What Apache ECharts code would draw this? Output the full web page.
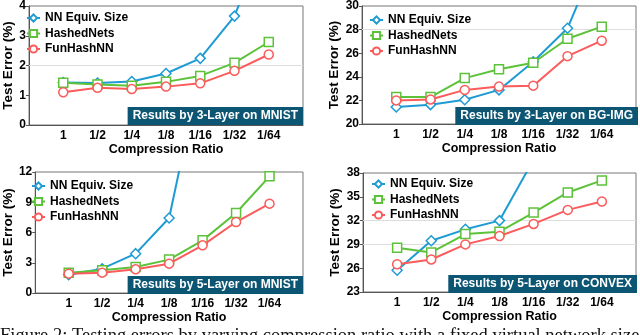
<!DOCTYPE html>
<html><head><meta charset="utf-8">
<script src="https://cdn.jsdelivr.net/npm/echarts@6/dist/echarts.min.js"></script>
<style>html,body{margin:0;padding:0;background:#fff}#c{width:640px;height:335px}</style>
</head><body><div id="c"></div>
<script>
const ratios = ['1','1/2','1/4','1/8','1/16','1/32','1/64'];
const seriesNames = ['NN Equiv. Size','HashedNets','FunHashNN'];
// Panel A: 3-Layer MNIST
const a_nn   = [1.43,1.41,1.46,1.73,2.24,3.66,6.6];
const a_hash = [1.42,1.36,1.32,1.45,1.65,2.09,2.79];
const a_fun  = [1.10,1.25,1.21,1.29,1.40,1.82,2.37];
// Panel B: 3-Layer BG-IMG
const b_nn   = [21.44,21.64,22.06,22.89,25.28,28.11,35.0];
const b_hash = [22.28,22.28,23.89,24.64,25.19,27.22,28.25];
const b_fun  = [22.00,22.08,22.89,23.17,23.25,25.75,27.06];
// Panel C: 5-Layer MNIST
const c_nn   = [1.82,2.41,3.90,7.44,23.0,40.0,60.0];
const c_hash = [2.02,2.25,2.58,3.31,5.22,7.93,11.57];
const c_fun  = [1.92,2.02,2.35,2.91,4.73,7.04,8.86];
// Panel D: 5-Layer CONVEX
const d_nn   = [25.75,29.46,30.90,32.00,39.7,46.0,52.0];
const d_hash = [28.58,27.99,30.31,30.60,33.01,35.55,37.07];
const d_fun  = [26.50,27.10,29.00,30.06,31.58,33.35,34.41];
// Axis ranges / ticks
const yMin = [0,20,0,23], yMax = [4,30,12,38], yStep = [1,2,3,3];
const gridLinesAt = [[2],[28],[],[29,32]];
const panelTitles = ['Results by 3-Layer on MNIST','Results by 3-Layer on BG-IMG','Results by 5-Layer on MNIST','Results by 5-Layer on CONVEX'];
const caption = 'Figure 2: Testing errors by varying compression ratio with a fixed virtual network size';
const panelData = [[a_nn,a_hash,a_fun],[b_nn,b_hash,b_fun],[c_nn,c_hash,c_fun],[d_nn,d_hash,d_fun]];

const colors = ['#1f9bd4','#5cc23a','#fb5b5b'];
const symbols = ['diamond','rect','circle'];
const symSizes = [10,9,9];
const FF = 'Liberation Sans, Arial, sans-serif';

const grids = [
  {left:23, top:4, width:280, height:121},
  {left:362, top:4, width:274, height:120},
  {left:25, top:172, width:278, height:121},
  {left:363, top:173, width:273, height:119}
];
const legendPos = [{left:26,top:12},{left:369,top:14},{left:31,top:180},{left:371,top:178}];
const titlePos = [{right:337,top:107},{right:2,top:107},{right:337,top:276},{right:3,top:275}];

const option = {
  animation:false,
  backgroundColor:'#fff',
  grid: grids.map(g=>Object.assign({show:true,borderColor:'#777',borderWidth:1,containLabel:false},g)),
  xAxis: grids.map((g,i)=>({
    type:'value', gridIndex:i, min:0, max:8, interval:1,
    name:'Compression Ratio', nameLocation:'middle', nameGap:18,
    nameTextStyle:{fontFamily:FF,fontWeight:'bold',fontSize:12.5,color:'#000'},
    axisLine:{lineStyle:{color:'#555'}}, axisTick:{show:false}, splitLine:{show:false},
    axisLabel:{fontFamily:FF,fontWeight:'bold',fontSize:12,color:'#000',margin:5,
      formatter:v=> (v>=1 && v<=7) ? ratios[v-1] : ''}
  })),
  yAxis: grids.map((g,i)=>({
    type:'value', gridIndex:i, min:yMin[i], max:yMax[i], interval:yStep[i],
    name:'Test Error (%)', nameLocation:'middle', nameGap: i%2===0 ? 14 : 20,
    nameTextStyle:{fontFamily:FF,fontWeight:'bold',fontSize:13.5,color:'#000'},
    axisLine:{show:true,lineStyle:{color:'#555'}},
    axisTick:{show:true,length:3,lineStyle:{color:'#555'}},
    splitLine:{show:false},
    axisLabel:{fontFamily:FF,fontWeight:'bold',fontSize:12,color:'#000',margin:3}
  })),
  legend: legendPos.map(p=>Object.assign({
    orient:'vertical', data:seriesNames, itemWidth:13, itemHeight:9, itemGap:3.5,
    textStyle:{fontFamily:FF,fontWeight:'bold',fontSize:12,color:'#000'}, padding:0, z:10
  },p)),
  title: titlePos.map((p,i)=>Object.assign({
    text:panelTitles[i], backgroundColor:'#0d5673', padding:[2,5,2,5],
    textStyle:{fontFamily:FF,fontWeight:'bold',fontSize:12,color:'#fff',lineHeight:14}
  },p)),
  graphic:[{type:'text',left:0,top:327,style:{text:caption,
    font:'18.5px "Liberation Serif", serif',fill:'#111'}}],
  series:[]
};
panelData.forEach((arrs,gi)=>{
  arrs.forEach((vals,si)=>{
    const s = {
      type:'line', name:seriesNames[si], xAxisIndex:gi, yAxisIndex:gi,
      data: vals.map((v,k)=>[k+1,v]), clip:true,
      symbol:symbols[si], symbolSize:symSizes[si], showAllSymbol:true,
      lineStyle:{color:colors[si],width:2}, itemStyle:{color:'#fff',borderColor:colors[si],borderWidth:1.5},
      color:colors[si], z:3+si
    };
    if(si===0 && gridLinesAt[gi].length){
      s.markLine = {silent:true,symbol:'none',z:1,label:{show:false},lineStyle:{color:'#ddd',type:'solid',width:1},
        data: gridLinesAt[gi].map(y=>({yAxis:y}))};
    }
    option.series.push(s);
  });
});
const chart = echarts.init(document.getElementById('c'),null,{renderer:'canvas'});
chart.setOption(option);
</script></body></html>
